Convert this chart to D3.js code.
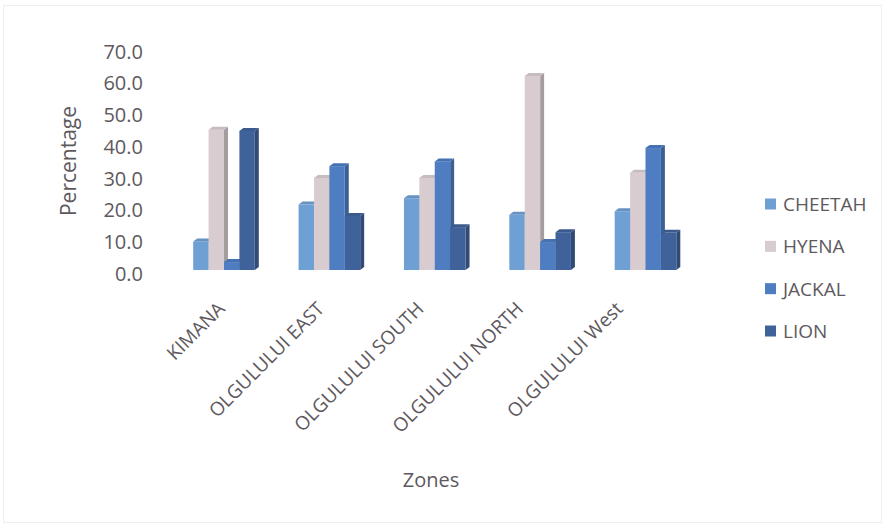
<!DOCTYPE html>
<html>
<head>
<meta charset="utf-8">
<script src="https://cdn.jsdelivr.net/npm/d3@7"></script>
<style>
  html, body { margin: 0; padding: 0; background: #ffffff; }
  svg { display: block; }
  text { font-family: "Open Sans", "DejaVu Sans", sans-serif; fill: #5e595e; }
</style>
</head>
<body>
<svg id="chart" width="886" height="528"></svg>
<script>
// Predator share by zone (%)
const zones = ["KIMANA", "OLGULULUI  EAST", "OLGULULUI  SOUTH", "OLGULULUI NORTH", "OLGULULUI West"];
const species = ["CHEETAH", "HYENA", "JACKAL", "LION"];
const cheetah = [9.0, 20.6, 22.6, 17.4, 18.5];
const hyena   = [44.2, 29.0, 29.0, 61.1, 30.6];
const jackal  = [2.5, 32.7, 34.2, 8.8, 38.4];
const lion    = [43.8, 17.0, 13.5, 11.9, 11.7];
const yTicks  = [0, 10, 20, 30, 40, 50, 60, 70];
const colors  = ["#6fa0d4", "#d8ccd1", "#4e7dc2", "#40629a"];

const seriesValues = [cheetah, hyena, jackal, lion];

const svg = d3.select("#chart");

// faint outer frame
svg.append("rect")
  .attr("x", 3.5).attr("y", 5.5).attr("width", 878).attr("height", 517)
  .attr("fill", "none").attr("stroke", "#efefef");

// scales
const y = d3.scaleLinear().domain([0, 70]).range([270, 47.7]);
const xGroup = d3.scalePoint().domain(zones).range([224, 645.5]);
const xSub = d3.scaleBand().domain(species).range([-30.8, 30.8]);
const xLabel = d3.scalePoint().domain(zones).range([226, 624]);

// depth of the 3D extrusion
const DX = 4, DY = -3;

// y axis labels
const yAxis = d3.axisLeft(y).tickValues(yTicks).tickFormat(d3.format(".1f")).tickSize(0).tickPadding(0);
const yG = svg.append("g").attr("transform", "translate(143,4)").call(yAxis);
yG.select(".domain").remove();
yG.selectAll("text").attr("font-size", 20).attr("fill", "#5e595e")
  .style("font-family", "'Open Sans', sans-serif");

// y title
svg.append("text")
  .attr("transform", "translate(76,161) rotate(-90)")
  .attr("text-anchor", "middle")
  .attr("font-size", 21)
  .text("Percentage");

// bars
zones.forEach((z, zi) => {
  const g = svg.append("g").attr("transform", `translate(${xGroup(z)},0)`);
  species.forEach((s, si) => {
    const v = seriesValues[si][zi];
    const x0 = xSub(s), w = xSub.bandwidth();
    const yt = y(v), yb = y(0);
    const base = d3.color(colors[si]);
    const bg = g.append("g");
    // side face
    bg.append("path")
      .attr("d", `M${x0 + w},${yb} L${x0 + w},${yt} L${x0 + w + DX},${yt + DY} L${x0 + w + DX},${yb + DY} Z`)
      .attr("fill", base.darker(0.75));
    // front face
    bg.append("rect")
      .attr("x", x0).attr("y", yt).attr("width", w).attr("height", yb - yt)
      .attr("fill", base);
    // top face
    bg.append("path")
      .attr("d", `M${x0},${yt} L${x0 + DX},${yt + DY} L${x0 + w + DX},${yt + DY} L${x0 + w},${yt} Z`)
      .attr("fill", base.darker(0.25));
  });
});

// category labels
zones.forEach(z => {
  svg.append("text")
    .attr("transform", `translate(${xLabel(z)},310) rotate(-45)`)
    .attr("text-anchor", "end")
    .attr("font-size", 19)
    .text(z);
});

// x title
svg.append("text")
  .attr("x", 431).attr("y", 487)
  .attr("text-anchor", "middle")
  .attr("font-size", 20)
  .text("Zones");

// legend
const legend = svg.append("g");
const legendY = d3.scalePoint().domain(species).range([204, 331]);
species.forEach((s, si) => {
  legend.append("rect")
    .attr("x", 765).attr("y", legendY(s) - 5.5).attr("width", 11).attr("height", 11)
    .attr("fill", colors[si]);
  legend.append("text")
    .attr("x", 783).attr("y", legendY(s))
    .attr("dy", "0.36em")
    .attr("font-size", 19)
    .text(s);
});
</script>
</body>
</html>
